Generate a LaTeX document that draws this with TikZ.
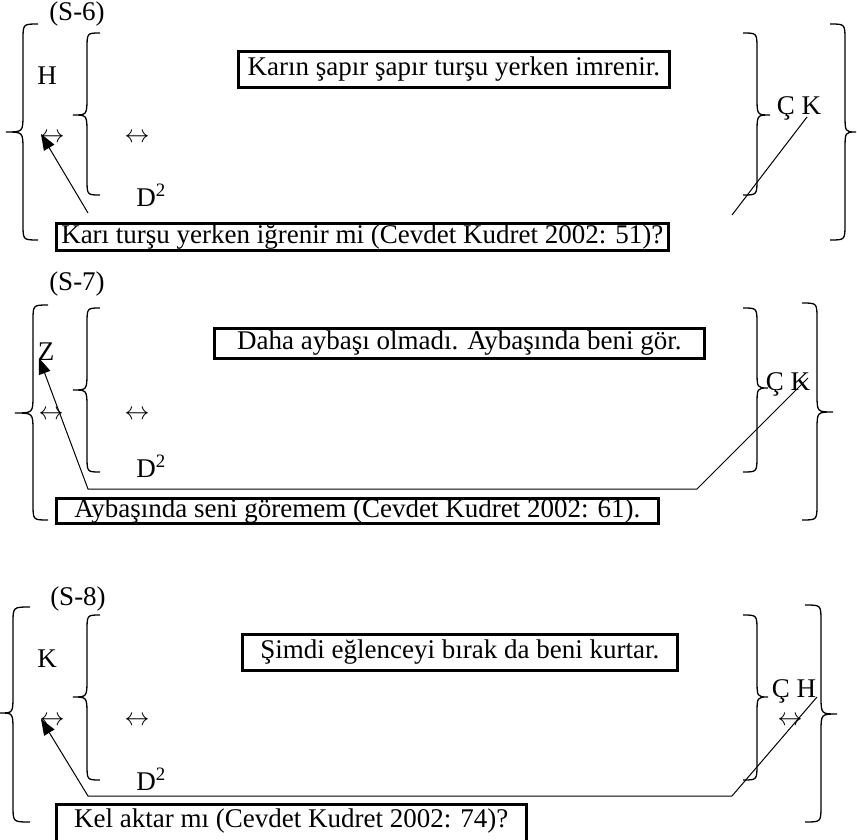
\documentclass[tikz,border=0pt]{standalone}
\usepackage{fontspec}
\setmainfont{Liberation Serif}
\usetikzlibrary{arrows.meta}

% curly bracket: end x, body x, tip x, top y, mid y, bottom y
\newcommand{\curl}[6]{%
  \draw[curlline] (#1,#4) .. controls (#2,#4) .. (#2,{#4+16}) -- (#2,{#5-18})
    .. controls (#2,#5) .. (#3,#5) .. controls (#2,#5) .. (#2,{#5+18})
    -- (#2,{#6-16}) .. controls (#2,#6) .. (#1,#6);}
\newcommand{\dbl}{$\leftrightarrow$}

\begin{document}
\begin{tikzpicture}[
  x=1pt, y=-1pt,
  >={Triangle[length=16pt, width=12pt]},
  txt/.style={inner sep=0pt, font=\fontsize{27}{32}\selectfont},
  arr/.style={inner sep=0pt, font=\fontsize{25}{30}\selectfont},
  sentbox/.style={draw, line width=2.6pt, anchor=north west, inner xsep=3pt, inner ysep=0pt, font=\fontsize{27}{32}\selectfont},
  curlline/.style={line width=1.3pt},
  pointer/.style={->, line width=1pt},
  link/.style={line width=1pt}
]
\useasboundingbox (0,0) rectangle (857,840);

% (S-6)
\node[txt, anchor=base] (S6no)   at (77,21)   {(S-6)};
\node[txt, anchor=base] (S6H)    at (47,85)   {H};
\node[arr]              (S6arrA) at (52,138)  {\dbl};
\node[arr]              (S6arrB) at (137,138) {\dbl};
\node[txt, anchor=base] (S6D)    at (151,206) {D\textsuperscript{2}};
\node[txt, anchor=base] (S6CK)   at (799,115) {Ç K};
\node[sentbox, minimum width=431pt, minimum height=36pt] (S6top) at (237,50) {Karın şapır şapır turşu yerken imrenir.};
\node[sentbox, minimum width=612pt, minimum height=27pt] (S6bot) at (55,222) {Karı turşu yerken iğrenir mi (Cevdet Kudret 2002: 51)?};

\curl{38}{23}{6}{24}{132}{240}
\curl{100}{87}{73}{33}{115}{195}
\curl{743}{757}{770}{33}{115}{195}
\curl{830}{845}{856}{24}{132}{240}

\coordinate (S6foot) at (88,213);
\coordinate (S6tip)  at (41,134);
\coordinate (S6low)  at (732,215);
\coordinate (S6high) at (807,117);
\draw[pointer] (S6foot) -- (S6tip);
\draw[link]    (S6low) -- (S6high);

% (S-7)
\node[txt, anchor=base] (S7no)   at (77,290)  {(S-7)};
\node[txt, anchor=base] (S7Z)    at (46,360)  {Z};
\node[arr]              (S7arrA) at (51,415)  {\dbl};
\node[arr]              (S7arrB) at (137,415) {\dbl};
\node[txt, anchor=base] (S7D)    at (151,477) {D\textsuperscript{2}};
\node[txt, anchor=base] (S7CK)   at (788,390) {Ç K};
\node[sentbox, minimum width=490pt, minimum height=30pt] (S7top) at (213,327) {Daha aybaşı olmadı. Aybaşında beni gör.};
\node[sentbox, minimum width=602pt, minimum height=25pt] (S7bot) at (55,497) {Aybaşında seni göremem (Cevdet Kudret 2002: 61).};

\curl{48}{33}{15}{305}{413}{520}
\curl{100}{87}{73}{308}{390}{472}
\curl{743}{757}{768}{308}{388}{472}
\curl{802}{817}{833}{303}{412}{520}

\coordinate (S7high) at (808,378);
\coordinate (S7bend) at (697,489);
\coordinate (S7foot) at (88,489);
\coordinate (S7tip)  at (39,358);
\draw[pointer] (S7high) -- (S7bend) -- (S7foot) -- (S7tip);

% (S-8)
\node[txt, anchor=base] (S8no)   at (78,605)  {(S-8)};
\node[txt, anchor=base] (S8K)    at (47,667)  {K};
\node[arr]              (S8arrA) at (52,721)  {\dbl};
\node[arr]              (S8arrB) at (137,721) {\dbl};
\node[txt, anchor=base] (S8D)    at (151,790) {D\textsuperscript{2}};
\node[txt, anchor=base] (S8CH)   at (794,697) {Ç H};
\node[arr]              (S8arrC) at (790,721) {\dbl};
\node[sentbox, minimum width=435pt, minimum height=36pt] (S8top) at (241,633) {Şimdi eğlenceyi bırak da beni kurtar.};
\node[sentbox, minimum width=470pt, minimum height=42pt, text height=19pt, text depth=14pt] (S8bot) at (55,803) {Kel aktar mı (Cevdet Kudret 2002: 74)?};

\curl{30}{13}{0}{607}{713}{822}
\curl{100}{87}{73}{615}{697}{780}
\curl{743}{757}{768}{615}{697}{780}
\curl{805}{821}{837}{605}{714}{822}

\coordinate (S8high) at (817,697);
\coordinate (S8bend) at (732,796);
\coordinate (S8foot) at (88,796);
\coordinate (S8tip)  at (41,719);
\draw[pointer] (S8high) -- (S8bend) -- (S8foot) -- (S8tip);

\end{tikzpicture}
\end{document}
